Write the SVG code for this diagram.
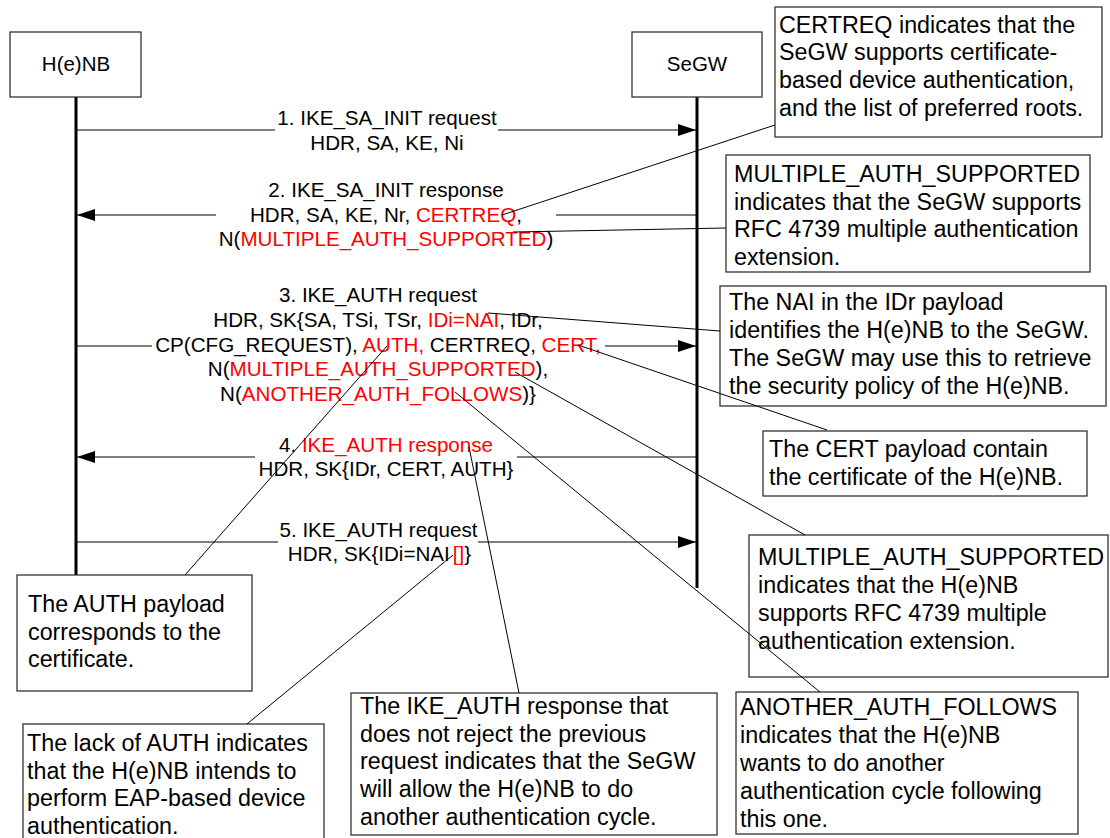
<svg xmlns="http://www.w3.org/2000/svg" width="1110" height="838" viewBox="0 0 1110 838">
  <defs>
    <style>
      text { font-family: "Liberation Sans", Arial, sans-serif; fill: #000; }
      .head { fill: #fff; stroke: #333; stroke-width: 1.3; }
      .head-label { font-size: 20.5px; text-anchor: middle; }
      .lifeline { stroke: #000; stroke-width: 3; }
      .msg { stroke: #000; stroke-width: 1.2; fill: none; }
      .msg-label { font-size: 20.6px; text-anchor: middle; }
      .note { fill: #fff; stroke: #333; stroke-width: 1.3; }
      .note-text { font-size: 23.3px; }
      .lead { stroke: #000; stroke-width: 1; fill: none; }
      .red { fill: #ff0000; }
    </style>
    <marker id="arrow" viewBox="0 0 18 12" refX="18" refY="6" markerWidth="18" markerHeight="12" markerUnits="userSpaceOnUse" orient="auto">
      <path d="M0,0 L18,6 L0,12 z" fill="#000"/>
    </marker>
  </defs>

  <rect width="1110" height="838" fill="#fff"/>

  <!-- Participants -->
  <g id="henb">
    <line class="lifeline" x1="76" y1="97" x2="76" y2="575"/>
    <rect class="head" x="10" y="32" width="131" height="65"/>
    <text class="head-label" x="76" y="71">H(e)NB</text>
  </g>
  <g id="segw">
    <line class="lifeline" x1="697" y1="97" x2="697" y2="588"/>
    <rect class="head" x="632" y="32" width="130" height="65"/>
    <text class="head-label" x="697" y="71">SeGW</text>
  </g>

  <!-- Notes -->
  <g id="note-certreq">
    <rect class="note" x="775" y="7" width="327" height="130"/>
    <text class="note-text" x="779" y="32.5">
      <tspan x="779">CERTREQ indicates that the</tspan>
      <tspan x="779" dy="27.7">SeGW supports certificate-</tspan>
      <tspan x="779" dy="27.7">based device authentication,</tspan>
      <tspan x="779" dy="27.7">and the list of preferred roots.</tspan>
    </text>
  </g>
  <g id="note-segw-multi">
    <rect class="note" x="726" y="155" width="364" height="117"/>
    <text class="note-text" x="734" y="182">
      <tspan x="734">MULTIPLE_AUTH_SUPPORTED</tspan>
      <tspan x="734" dy="27.5">indicates that the SeGW supports</tspan>
      <tspan x="734" dy="27.5">RFC 4739 multiple authentication</tspan>
      <tspan x="734" dy="27.5">extension.</tspan>
    </text>
  </g>
  <g id="note-nai">
    <rect class="note" x="720" y="286" width="386" height="120"/>
    <text class="note-text" x="729" y="310">
      <tspan x="729">The NAI in the IDr payload</tspan>
      <tspan x="729" dy="28">identifies the H(e)NB to the SeGW.</tspan>
      <tspan x="729" dy="28">The SeGW may use this to retrieve</tspan>
      <tspan x="729" dy="28">the security policy of the H(e)NB.</tspan>
    </text>
  </g>
  <g id="note-cert">
    <rect class="note" x="763" y="431" width="324" height="65"/>
    <text class="note-text" x="769" y="457">
      <tspan x="769">The CERT payload contain</tspan>
      <tspan x="769" dy="27.5">the certificate of the H(e)NB.</tspan>
    </text>
  </g>
  <g id="note-henb-multi">
    <rect class="note" x="749" y="535" width="359" height="142"/>
    <text class="note-text" x="758" y="565">
      <tspan x="758">MULTIPLE_AUTH_SUPPORTED</tspan>
      <tspan x="758" dy="28">indicates that the H(e)NB</tspan>
      <tspan x="758" dy="28">supports RFC 4739 multiple</tspan>
      <tspan x="758" dy="28">authentication extension.</tspan>
    </text>
  </g>
  <g id="note-another">
    <rect class="note" x="736" y="692" width="342" height="142"/>
    <text class="note-text" x="740" y="715">
      <tspan x="740">ANOTHER_AUTH_FOLLOWS</tspan>
      <tspan x="740" dy="28">indicates that the H(e)NB</tspan>
      <tspan x="740" dy="28">wants to do another</tspan>
      <tspan x="740" dy="28">authentication cycle following</tspan>
      <tspan x="740" dy="28">this one.</tspan>
    </text>
  </g>
  <g id="note-auth">
    <rect class="note" x="17" y="575" width="235" height="116"/>
    <text class="note-text" x="28" y="612">
      <tspan x="28">The AUTH payload</tspan>
      <tspan x="28" dy="27.5">corresponds to the</tspan>
      <tspan x="28" dy="27.5">certificate.</tspan>
    </text>
  </g>
  <g id="note-noauth">
    <rect class="note" x="23" y="724" width="301" height="120"/>
    <text class="note-text" x="27" y="751">
      <tspan x="27">The lack of AUTH indicates</tspan>
      <tspan x="27" dy="27.5">that the H(e)NB intends to</tspan>
      <tspan x="27" dy="27.5">perform EAP-based device</tspan>
      <tspan x="27" dy="27.5">authentication.</tspan>
    </text>
  </g>
  <g id="note-response">
    <rect class="note" x="351" y="693" width="366" height="142"/>
    <text class="note-text" x="360" y="714">
      <tspan x="360">The IKE_AUTH response that</tspan>
      <tspan x="360" dy="27.7">does not reject the previous</tspan>
      <tspan x="360" dy="27.7">request indicates that the SeGW</tspan>
      <tspan x="360" dy="27.7">will allow the H(e)NB to do</tspan>
      <tspan x="360" dy="27.7">another authentication cycle.</tspan>
    </text>
  </g>

  <!-- Messages and note leaders -->
  <g id="connectors">
    <!-- 1. IKE_SA_INIT request -->
    <line class="msg" x1="76" y1="130" x2="275" y2="130"/>
    <line class="msg" x1="498" y1="130" x2="696" y2="130" marker-end="url(#arrow)"/>
    <text class="msg-label" x="387" y="125">1. IKE_SA_INIT request</text>
    <text class="msg-label" x="387" y="149.5">HDR, SA, KE, Ni</text>

    <!-- 2. IKE_SA_INIT response -->
    <line class="msg" x1="697" y1="215" x2="556" y2="215"/>
    <line class="msg" x1="216" y1="215" x2="77" y2="215" marker-end="url(#arrow)"/>
    <text class="msg-label" x="386" y="197">2. IKE_SA_INIT response</text>
    <text class="msg-label" x="386" y="221.5">HDR, SA, KE, Nr, <tspan class="red">CERTREQ</tspan>,</text>
    <text class="msg-label" x="386" y="246">N(<tspan class="red">MULTIPLE_AUTH_SUPPORTED</tspan>)</text>

    <!-- 3. IKE_AUTH request -->
    <line class="msg" x1="76" y1="346" x2="152" y2="346"/>
    <line class="msg" x1="605" y1="346" x2="696" y2="346" marker-end="url(#arrow)"/>
    <text class="msg-label" x="378" y="302">3. IKE_AUTH request</text>
    <text class="msg-label" x="378" y="326.7">HDR, SK{SA, TSi, TSr, <tspan class="red">IDi=NAI</tspan>, IDr,</text>
    <text class="msg-label" x="378" y="351.5">CP(CFG_REQUEST), <tspan class="red">AUTH,</tspan> CERTREQ, <tspan class="red">CERT,</tspan></text>
    <text class="msg-label" x="378" y="376.3">N(<tspan class="red">MULTIPLE_AUTH_SUPPORTED</tspan>),</text>
    <text class="msg-label" x="378" y="401">N(<tspan class="red">ANOTHER_AUTH_FOLLOWS</tspan>)}</text>

    <!-- 4. IKE_AUTH response -->
    <line class="msg" x1="697" y1="457" x2="517" y2="457"/>
    <line class="msg" x1="255" y1="457" x2="77" y2="457" marker-end="url(#arrow)"/>
    <text class="msg-label" x="386" y="452">4. <tspan class="red">IKE_AUTH response</tspan></text>
    <text class="msg-label" x="386" y="476">HDR, SK{IDr, CERT, AUTH}</text>

    <!-- 5. IKE_AUTH request -->
    <line class="msg" x1="76" y1="542" x2="278" y2="542"/>
    <line class="msg" x1="478" y1="542" x2="696" y2="542" marker-end="url(#arrow)"/>
    <text class="msg-label" x="378.5" y="537">5. IKE_AUTH request</text>
    <text class="msg-label" x="379.5" y="561">HDR, SK{IDi=NAI<tspan class="red" dx="3">[]</tspan>}</text>

    <!-- Note leaders -->
    <line class="lead" x1="775" y1="125" x2="502" y2="215"/>
    <line class="lead" x1="726" y1="228" x2="513" y2="232"/>
    <line class="lead" x1="720" y1="331" x2="488" y2="313"/>
    <line class="lead" x1="827" y1="430" x2="578" y2="345"/>
    <line class="lead" x1="805" y1="535" x2="515" y2="372"/>
    <line class="lead" x1="820" y1="692" x2="455" y2="392"/>
    <line class="lead" x1="185" y1="575" x2="387" y2="346"/>
    <line class="lead" x1="247" y1="724" x2="453" y2="555"/>
    <line class="lead" x1="519" y1="693" x2="469" y2="447"/>
  </g>
</svg>
